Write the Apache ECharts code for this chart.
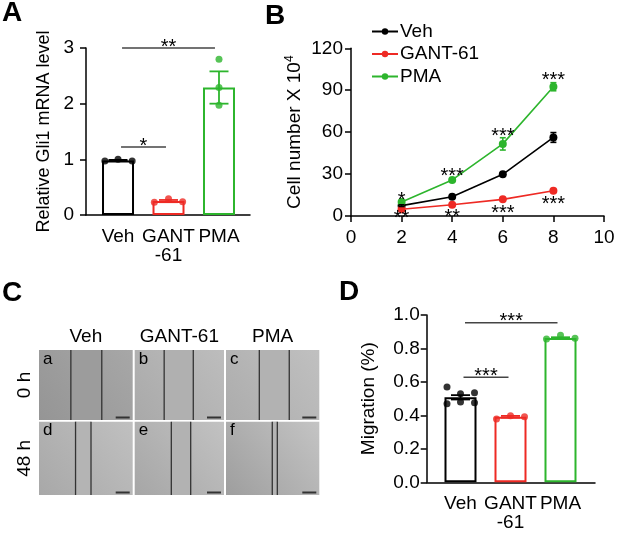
<!DOCTYPE html>
<html>
<head>
    <meta charset="utf-8">
    <title>Gli1 / proliferation / migration</title>
    <script src="https://cdn.jsdelivr.net/npm/echarts@6.0.0/dist/echarts.min.js"></script>
    <style>
        html, body { margin: 0; padding: 0; background: #fff; }
    </style>
</head>
<body>
<div id="main" style="width: 617px;height:533px;"></div>
<script type="text/javascript">
    // ---- data ----
    var groups = ['Veh', 'GANT\n-61', 'PMA'];
    var groupColors = ['#000000', '#ee2a24', '#2db52d'];

    // A: relative Gli1 mRNA
    var gliMean = [0.98, 0.25, 2.29];
    var gliSem = [0.01, 0.02, 0.29];
    var gliPoints = [[0.97, 1.0, 0.97], [0.23, 0.29, 0.24], [2.80, 2.29, 1.97]];
    var gliJitter = [[-0.26, 0, 0.28], [-0.28, 0, 0.28], [0, 0, 0]];

    // B: cell number x 10^4
    var days = [2, 4, 6, 8];
    var vehCells = [7.4, 13.8, 29.8, 56.2];
    var vehErr = [0.6, 0.6, 0.8, 3.5];
    var gantCells = [4.8, 8.1, 11.9, 18.1];
    var gantErr = [0.4, 0.5, 0.6, 0.8];
    var pmaCells = [10.0, 25.8, 51.6, 92.5];
    var pmaErr = [0.6, 1.0, 4.4, 2.9];
    var starsAbove = ['*', '***', '***', '***'];
    var starsAboveY = [11.4, 28.6, 57.2, 97.3];
    var starsBelow = ['**', '**', '***', '***'];
    var starsBelowY = [-1.6, -1.2, 1.9, 7.9];

    // C: wound edges (fraction of tile width)
    var conditions = ['Veh', 'GANT-61', 'PMA'];
    var timepoints = ['0 h', '48 h'];
    var tileLetters = ['a', 'b', 'c', 'd', 'e', 'f'];
    var woundEdges = [[0.34, 0.67], [0.33, 0.656], [0.357, 0.678],
                      [0.39, 0.555], [0.41, 0.627], [0.496, 0.55]];

    // D: migration
    var migMean = [0.508, 0.392, 0.862];
    var migSem = [0.013, 0.005, 0.005];
    var migPoints = [[0.57, 0.53, 0.535, 0.47, 0.48, 0.476], [0.378, 0.398, 0.392], [0.857, 0.879, 0.861]];
    var migJitter = [[-0.27, 0, 0.28, -0.27, 0, 0.28], [-0.28, 0, 0.28], [-0.28, 0, 0.29]];

    // significance brackets: [x1, x2, y, label]
    var sigA = [[0.08, 1.92, 3.0, '**'], [0.06, 0.95, 1.22, '*']];
    var sigD = [[0.09, 1.94, 0.954, '***'], [0.06, 0.96, 0.628, '***']];

    var FONT = 'Liberation Sans, Arial, sans-serif';

    var myChart = echarts.init(document.getElementById('main'));

    function barData(means) {
        return means.map(function (v, i) {
            return {
                value: [i, v],
                itemStyle: { color: '#fff', borderColor: groupColors[i], borderWidth: 2 }
            };
        });
    }

    function pointData(points, jitter) {
        var out = [];
        points.forEach(function (arr, i) {
            arr.forEach(function (v, j) {
                out.push({ value: [i + jitter[i][j], v], itemStyle: { color: groupColors[i] } });
            });
        });
        return out;
    }

    function errData(xs, means, errs, colors) {
        return means.map(function (m, i) {
            return [xs[i], m - errs[i], m + errs[i], colors[i]];
        });
    }

    function errSeries(data, xi, cap, width) {
        return {
            type: 'custom',
            xAxisIndex: xi, yAxisIndex: xi,
            z: 5,
            renderItem: function (params, api) {
                var x = api.value(0);
                var lo = api.coord([x, api.value(1)]);
                var hi = api.coord([x, api.value(2)]);
                var c = data[params.dataIndex][3];
                var st = { stroke: c, lineWidth: width };
                return {
                    type: 'group',
                    children: [
                        { type: 'line', shape: { x1: lo[0], y1: lo[1], x2: hi[0], y2: hi[1] }, style: st },
                        { type: 'line', shape: { x1: lo[0] - cap, y1: lo[1], x2: lo[0] + cap, y2: lo[1] }, style: st },
                        { type: 'line', shape: { x1: hi[0] - cap, y1: hi[1], x2: hi[0] + cap, y2: hi[1] }, style: st }
                    ]
                };
            },
            data: data.map(function (d) { return [d[0], d[1], d[2]]; })
        };
    }

    function sigSeries(data, xi) {
        return {
            type: 'custom',
            xAxisIndex: xi, yAxisIndex: xi,
            z: 6,
            renderItem: function (params, api) {
                var p1 = api.coord([api.value(0), api.value(2)]);
                var p2 = api.coord([api.value(1), api.value(2)]);
                return {
                    type: 'group',
                    children: [
                        { type: 'line', shape: { x1: p1[0], y1: p1[1], x2: p2[0], y2: p2[1] },
                          style: { stroke: '#444', lineWidth: 1.5 } },
                        { type: 'text', x: (p1[0] + p2[0]) / 2, y: p1[1] - 1,
                          style: { text: data[params.dataIndex][3], fill: '#000', font: '20px ' + FONT,
                                   align: 'center', verticalAlign: 'middle' } }
                    ]
                };
            },
            data: data.map(function (d) { return [d[0], d[1], d[2]]; })
        };
    }

    function starSeries(ys, labels) {
        return {
            type: 'custom',
            xAxisIndex: 1, yAxisIndex: 1,
            z: 6,
            renderItem: function (params, api) {
                var p = api.coord([api.value(0), api.value(1)]);
                return {
                    type: 'text', x: p[0], y: p[1],
                    style: { text: labels[params.dataIndex], fill: '#000', font: '20px ' + FONT,
                             align: 'center', verticalAlign: 'middle' }
                };
            },
            data: days.map(function (d, i) { return [d, ys[i]]; })
        };
    }

    var axisLineStyle = { color: '#000', width: 1.5 };
    var tickStyle = { show: true, length: 6, lineStyle: { color: '#000', width: 1.5 } };

    function groupXAxis(idx, min, max) {
        return {
            type: 'value', gridIndex: idx, min: min, max: max,
            axisLine: { show: true, onZero: false, lineStyle: axisLineStyle },
            axisTick: { show: false },
            splitLine: { show: false },
            axisLabel: {
                customValues: [0, 1, 2],
                formatter: function (v) { return groups[Math.round(v)]; },
                color: '#000', fontSize: 19, fontFamily: FONT, lineHeight: 19, margin: 12
            }
        };
    }

    // ---- panel C graphics ----
    var tileX = [39, 134.7, 226];
    var tileW = [93.7, 89.3, 93.3];
    var tileY = [350, 421.7];
    var tileH = [70, 73.3];
    var tileShade = [
        ['#959595', '#a7a7a7', '#9c9c9c'], ['#a9a9a9', '#bdbdbd', '#b0b0b0'], ['#acacac', '#c0c0c0', '#b2b2b2'],
        ['#a8a8a8', '#c0c0c0', '#b4b4b4'], ['#a6a6a6', '#c2c2c2', '#b2b2b2'], ['#9e9e9e', '#c4c4c4', '#b4b4b4']
    ];
    var graphics = [];
    var letters = [['A', 12, 13], ['B', 275, 16], ['C', 12, 293], ['D', 349, 292]];
    letters.forEach(function (l) {
        graphics.push({ type: 'text', x: l[1], y: l[2],
            style: { text: l[0], font: 'bold 28px ' + FONT, fill: '#000', align: 'center', verticalAlign: 'middle' } });
    });
    conditions.forEach(function (c, j) {
        graphics.push({ type: 'text', x: tileX[j] + tileW[j] / 2, y: 337,
            style: { text: c, font: '19px ' + FONT, fill: '#000', align: 'center', verticalAlign: 'middle' } });
    });
    timepoints.forEach(function (t, r) {
        graphics.push({ type: 'text', x: 25, y: tileY[r] + tileH[r] / 2, rotation: Math.PI / 2,
            style: { text: t, font: '19px ' + FONT, fill: '#000', align: 'center', verticalAlign: 'middle' } });
    });
    for (var r = 0; r < 2; r++) {
        for (var j = 0; j < 3; j++) {
            var k = r * 3 + j;
            var x0 = tileX[j], y0 = tileY[r], w = tileW[j], h = tileH[r];
            var e1 = x0 + woundEdges[k][0] * w, e2 = x0 + woundEdges[k][1] * w;
            graphics.push({ type: 'rect', shape: { x: x0, y: y0, width: w, height: h },
                style: { fill: new echarts.graphic.LinearGradient(0, 1, 1, 0, [
                    { offset: 0, color: tileShade[k][0] }, { offset: 1, color: tileShade[k][1] }]) } });
            graphics.push({ type: 'rect', shape: { x: e1, y: y0, width: e2 - e1, height: h },
                style: { fill: tileShade[k][2] } });
            graphics.push({ type: 'line', shape: { x1: e1, y1: y0, x2: e1, y2: y0 + h },
                style: { stroke: '#333', lineWidth: 1.3 } });
            graphics.push({ type: 'line', shape: { x1: e2, y1: y0, x2: e2, y2: y0 + h },
                style: { stroke: '#333', lineWidth: 1.3 } });
            graphics.push({ type: 'line', shape: { x1: x0 + w - 17, y1: y0 + h - 2.5, x2: x0 + w - 3, y2: y0 + h - 2.5 },
                style: { stroke: '#333', lineWidth: 2 } });
            graphics.push({ type: 'text', x: x0 + 4, y: y0 + 9,
                style: { text: tileLetters[k], font: '17px ' + FONT, fill: '#000', verticalAlign: 'middle' } });
        }
    }

    var option = {
        animation: false,
        backgroundColor: '#fff',
        textStyle: { fontFamily: FONT },
        grid: [
            { left: 86, top: 48, width: 164, height: 167, outerBoundsMode: 'none' },
            { left: 351, top: 48.3, width: 253, height: 167.7, outerBoundsMode: 'none' },
            { left: 426.7, top: 315, width: 168.3, height: 167.3, outerBoundsMode: 'none' }
        ],
        legend: {
            data: ['Veh', 'GANT-61', 'PMA'],
            orient: 'vertical',
            left: 371, top: 22, padding: 0,
            itemWidth: 26, itemHeight: 8, itemGap: 3.5,
            textStyle: { color: '#000', fontSize: 19, fontFamily: FONT, padding: [0, 0, 0, -3] }
        },
        xAxis: [
            groupXAxis(0, -0.634, 2.614),
            {
                type: 'value', gridIndex: 1, min: 0, max: 10, interval: 2,
                axisLine: { show: true, onZero: false, lineStyle: axisLineStyle },
                axisTick: tickStyle,
                splitLine: { show: false },
                axisLabel: { color: '#000', fontSize: 19, fontFamily: FONT, margin: 12 }
            },
            groupXAxis(2, -0.676, 2.69)
        ],
        yAxis: [
            {
                type: 'value', gridIndex: 0, min: 0, max: 3, interval: 1,
                name: 'Relative Gli1 mRNA level', nameLocation: 'middle', nameGap: 33,
                nameTextStyle: { color: '#000', fontSize: 18, fontFamily: FONT },
                axisLine: { show: true, onZero: false, lineStyle: axisLineStyle },
                axisTick: tickStyle, splitLine: { show: false },
                axisLabel: { color: '#000', fontSize: 19, fontFamily: FONT, margin: 12 }
            },
            {
                type: 'value', gridIndex: 1, min: 0, max: 120, interval: 30,
                name: 'Cell number X 10{sup|4}', nameLocation: 'middle', nameGap: 46,
                nameTextStyle: { color: '#000', fontSize: 19, fontFamily: FONT,
                    rich: { sup: { fontSize: 12, fontFamily: FONT, color: '#000', padding: [0, 0, 9, 0] } } },
                axisLine: { show: true, onZero: false, lineStyle: axisLineStyle },
                axisTick: tickStyle, splitLine: { show: false },
                axisLabel: { color: '#000', fontSize: 19, fontFamily: FONT, margin: 8 }
            },
            {
                type: 'value', gridIndex: 2, min: 0, max: 1, interval: 0.2,
                name: 'Migration (%)', nameLocation: 'middle', nameGap: 48,
                nameTextStyle: { color: '#000', fontSize: 19, fontFamily: FONT },
                axisLine: { show: true, onZero: false, lineStyle: axisLineStyle },
                axisTick: tickStyle, splitLine: { show: false },
                axisLabel: { color: '#000', fontSize: 19, fontFamily: FONT, margin: 7,
                    formatter: function (v) { return v.toFixed(1); } }
            }
        ],
        graphic: graphics,
        series: [
            // A
            { type: 'bar', name: 'A bars', xAxisIndex: 0, yAxisIndex: 0, barWidth: 32, data: barData(gliMean) },
            errSeries(errData([0, 1, 2], gliMean, gliSem, groupColors), 0, 9.5, 1.8),
            { type: 'scatter', name: 'A points', xAxisIndex: 0, yAxisIndex: 0, symbolSize: 7, z: 7,
              data: pointData(gliPoints, gliJitter) },
            sigSeries(sigA, 0),
            // B
            { type: 'line', name: 'Veh', xAxisIndex: 1, yAxisIndex: 1, symbol: 'circle', symbolSize: 8,
              color: groupColors[0], lineStyle: { width: 1.6 }, z: 4,
              data: days.map(function (d, i) { return [d, vehCells[i]]; }) },
            { type: 'line', name: 'GANT-61', xAxisIndex: 1, yAxisIndex: 1, symbol: 'circle', symbolSize: 8,
              color: groupColors[1], lineStyle: { width: 1.6 }, z: 4,
              data: days.map(function (d, i) { return [d, gantCells[i]]; }) },
            { type: 'line', name: 'PMA', xAxisIndex: 1, yAxisIndex: 1, symbol: 'circle', symbolSize: 8,
              color: groupColors[2], lineStyle: { width: 1.6 }, z: 4,
              data: days.map(function (d, i) { return [d, pmaCells[i]]; }) },
            errSeries(errData(days, vehCells, vehErr, days.map(function () { return groupColors[0]; })), 1, 3, 1.6),
            errSeries(errData(days, gantCells, gantErr, days.map(function () { return groupColors[1]; })), 1, 3, 1.6),
            errSeries(errData(days, pmaCells, pmaErr, days.map(function () { return groupColors[2]; })), 1, 3, 1.6),
            starSeries(starsAboveY, starsAbove),
            starSeries(starsBelowY, starsBelow),
            // D
            { type: 'bar', name: 'D bars', xAxisIndex: 2, yAxisIndex: 2, barWidth: 32, data: barData(migMean) },
            errSeries(errData([0, 1, 2], migMean, migSem, groupColors), 2, 9.5, 1.8),
            { type: 'scatter', name: 'D points', xAxisIndex: 2, yAxisIndex: 2, symbolSize: 7, z: 7,
              data: pointData(migPoints, migJitter) },
            sigSeries(sigD, 2)
        ]
    };

    myChart.setOption(option);
</script>
</body>
</html>
